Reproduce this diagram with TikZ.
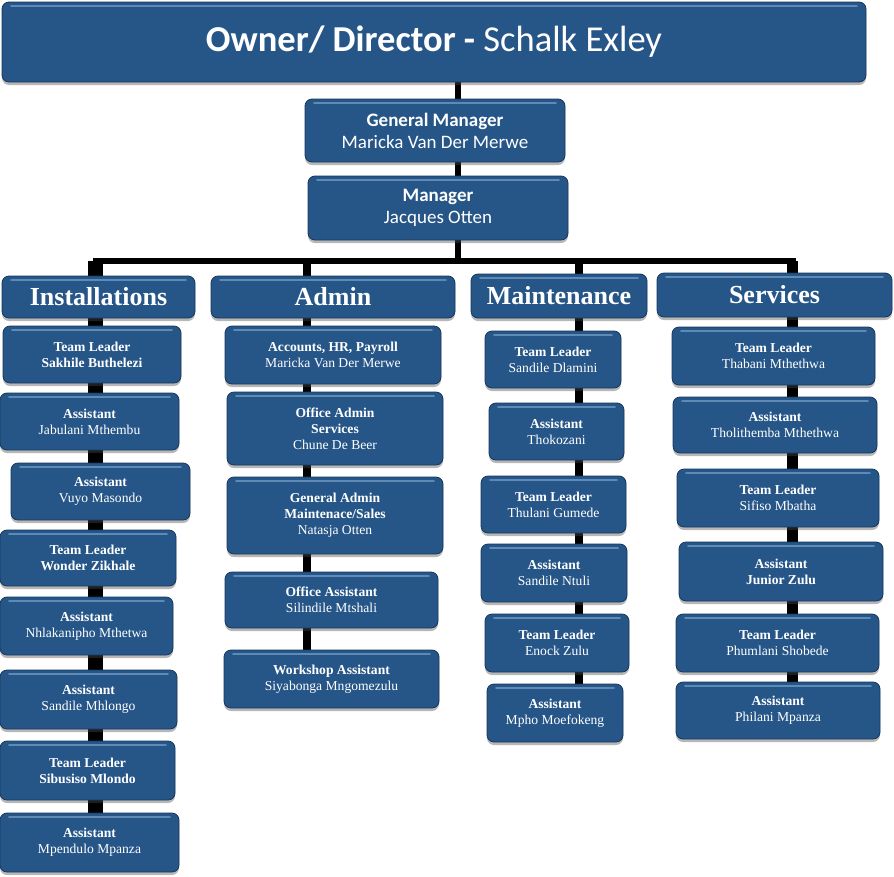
\documentclass[tikz,border=0pt]{standalone}
\usepackage{fontspec}
\setmainfont{Liberation Serif}
\newfontfamily\calfont{Carlito}
\usetikzlibrary{shadows,backgrounds}

\definecolor{boxblue}{RGB}{38,86,136}
\definecolor{boxedge}{RGB}{22,54,92}
\definecolor{boxlight}{RGB}{96,138,182}

\begin{document}
\begin{tikzpicture}[x=1pt,y=-1pt,
    box/.style={draw=boxedge, line width=0.8pt, fill=boxblue, rounded corners=7pt,
      text=white, align=center, inner sep=0pt,
      drop shadow={shadow xshift=0pt, shadow yshift=-3pt, opacity=0.4, fill=black!70},
      path picture={\draw[boxlight, line width=1.6pt, line cap=round]
        ([xshift=9pt,yshift=-4pt]path picture bounding box.north west) --
        ([xshift=-9pt,yshift=-4pt]path picture bounding box.north east);}},
    small/.style={font=\fontsize{13.6}{16}\selectfont},
    head/.style={font=\fontsize{26}{28}\selectfont\bfseries},
    top/.style={font=\calfont\fontsize{19}{22}\selectfont},
    conn/.style={draw=black, line width=#1},
    conn/.default=8pt]
  \useasboundingbox (0,0) rectangle (894,876);

  % top of the chart
  \node[box, minimum width=864, minimum height=80, font=\calfont\fontsize{36.5}{40}\selectfont] (owner) at (434,42)
    {\textbf{Owner/ Director -} Schalk Exley};
  \node[box, top, minimum width=260, minimum height=63] (gm) at (435,130.5)
    {\textbf{General Manager}\\ Maricka Van Der Merwe};
  \node[box, top, minimum width=260, minimum height=64] (mgr) at (438,208)
    {\textbf{Manager}\\ Jacques Otten};

  \coordinate (topX) at (458,0);
  \coordinate (bus) at (458,261);
  \coordinate (instX) at (95.5,0);
  \coordinate (admX) at (307,0);
  \coordinate (mntX) at (579,0);
  \coordinate (srvX) at (792.5,0);

  % department headers
  \node[box, head, minimum width=193, minimum height=42] (hInst) at (98.5,297) {Installations};
  \node[box, head, minimum width=244, minimum height=42] (hAdm) at (333,297) {Admin};
  \node[box, head, minimum width=176, minimum height=44] (hMnt) at (559,296) {Maintenance};
  \node[box, head, minimum width=235, minimum height=44] (hSrv) at (774.5,295) {Services};

  % Installations
  \node[box, small, minimum width=178, minimum height=57] (i1) at (92,354.5) {\textbf{Team Leader}\\ \textbf{Sakhile Buthelezi}};
  \node[box, small, minimum width=179, minimum height=57] (i2) at (89.5,421.5) {\textbf{Assistant}\\ Jabulani Mthembu};
  \node[box, small, minimum width=179, minimum height=57] (i3) at (100.5,491.5) {\textbf{Assistant}\\ Vuyo Masondo};
  \node[box, small, minimum width=176, minimum height=56] (i4) at (88,558) {\textbf{Team Leader}\\ \textbf{Wonder Zikhale}};
  \node[box, small, minimum width=173, minimum height=58] (i5) at (86.5,626) {\textbf{Assistant}\\ Nhlakanipho Mthetwa};
  \node[box, small, minimum width=177, minimum height=59] (i6) at (88.5,699.5) {\textbf{Assistant}\\ Sandile Mhlongo};
  \node[box, small, minimum width=175, minimum height=59] (i7) at (87.5,770.5) {\textbf{Team Leader}\\ \textbf{Sibusiso Mlondo}};
  \node[box, small, minimum width=179, minimum height=59] (i8) at (89.5,842.5) {\textbf{Assistant}\\ Mpendulo Mpanza};

  % Admin
  \node[box, small, minimum width=216, minimum height=58] (a1) at (333,355) {\textbf{Accounts, HR, Payroll}\\ Maricka Van Der Merwe};
  \node[box, small, minimum width=216, minimum height=73] (a2) at (335,428.5) {\textbf{Office Admin}\\ \textbf{Services}\\ Chune De Beer};
  \node[box, small, minimum width=216, minimum height=77] (a3) at (335,515.5) {\textbf{General Admin}\\ \textbf{Maintenace/Sales}\\ Natasja Otten};
  \node[box, small, minimum width=213, minimum height=56] (a4) at (331.5,600) {\textbf{Office Assistant}\\ Silindile Mtshali};
  \node[box, small, minimum width=215, minimum height=58] (a5) at (331.5,679) {\textbf{Workshop Assistant}\\ Siyabonga Mngomezulu};

  % Maintenance
  \node[box, small, minimum width=136, minimum height=57] (m1) at (553,359.5) {\textbf{Team Leader}\\ Sandile Dlamini};
  \node[box, small, minimum width=135, minimum height=57] (m2) at (556.5,431.5) {\textbf{Assistant}\\ Thokozani};
  \node[box, small, minimum width=145, minimum height=57] (m3) at (553.5,504.5) {\textbf{Team Leader}\\ Thulani Gumede};
  \node[box, small, minimum width=146, minimum height=58] (m4) at (554,573) {\textbf{Assistant}\\ Sandile Ntuli};
  \node[box, small, minimum width=144, minimum height=58] (m5) at (557,643) {\textbf{Team Leader}\\ Enock Zulu};
  \node[box, small, minimum width=136, minimum height=58] (m6) at (555,713) {\textbf{Assistant}\\ Mpho Moefokeng};

  % Services
  \node[box, small, minimum width=203, minimum height=58] (s1) at (773.5,356) {\textbf{Team Leader}\\ Thabani Mthethwa};
  \node[box, small, minimum width=204, minimum height=56] (s2) at (775,425) {\textbf{Assistant}\\ Tholithemba Mthethwa};
  \node[box, small, minimum width=202, minimum height=58] (s3) at (778,498) {\textbf{Team Leader}\\ Sifiso Mbatha};
  \node[box, small, minimum width=204, minimum height=59] (s4) at (781,571.5) {\textbf{Assistant}\\ \textbf{Junior Zulu}};
  \node[box, small, minimum width=203, minimum height=58] (s5) at (777.5,643) {\textbf{Team Leader}\\ Phumlani Shobede};
  \node[box, small, minimum width=204, minimum height=57] (s6) at (778,710.5) {\textbf{Assistant}\\ Philani Mpanza};

  % connectors, behind the boxes
  \begin{scope}[on background layer]
    \draw[conn=6pt] (owner.center -| topX) -- (gm.center -| topX);
    \draw[conn=6pt] (gm.center -| topX) -- (mgr.center -| topX);
    \draw[conn=6pt] (mgr.center -| topX) -- (bus);
    \draw[conn=6pt, line cap=rect] (bus -| instX) -- (bus -| srvX);
    \draw[conn=15pt] (bus -| instX) -- (hInst.center -| instX);
    \draw[conn] (bus -| admX) -- (hAdm.center -| admX);
    \draw[conn] (bus -| mntX) -- (hMnt.center -| mntX);
    \draw[conn=11pt] (bus -| srvX) -- (hSrv.center -| srvX);
    \foreach \a/\b in {hInst/i1,i1/i2,i2/i3,i3/i4,i4/i5,i5/i6,i6/i7,i7/i8}
      \draw[conn=15pt] (\a.center -| instX) -- (\b.center -| instX);
    \foreach \a/\b in {hAdm/a1,a1/a2,a2/a3,a3/a4,a4/a5}
      \draw[conn] (\a.center -| admX) -- (\b.center -| admX);
    \foreach \a/\b in {hMnt/m1,m1/m2,m2/m3,m3/m4,m4/m5,m5/m6}
      \draw[conn] (\a.center -| mntX) -- (\b.center -| mntX);
    \foreach \a/\b in {hSrv/s1,s1/s2,s2/s3,s3/s4,s4/s5,s5/s6}
      \draw[conn=11pt] (\a.center -| srvX) -- (\b.center -| srvX);
  \end{scope}
\end{tikzpicture}
\end{document}
